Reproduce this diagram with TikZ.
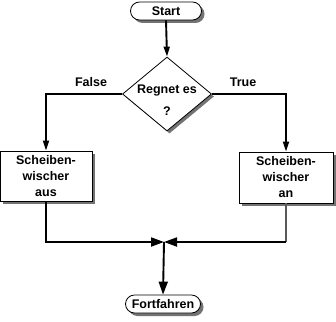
\documentclass[tikz,border=0pt]{standalone}
\usepackage{fontspec}
\setmainfont{Liberation Sans}
\usetikzlibrary{shapes.geometric,arrows.meta,shadows}
\begin{document}
\begin{tikzpicture}[x=1pt,y=-1pt,
 lbl/.style={font=\bfseries\fontsize{12.5}{16}\selectfont},
 shad/.style={drop shadow={shadow xshift=3pt,shadow yshift=-3pt,fill=black!55,opacity=1}},
 term/.style={draw,line width=0.8pt,rounded corners=9pt,fill=white,inner sep=0pt,lbl,shad},
 procbox/.style={draw,line width=0.8pt,fill=white,inner sep=0pt,align=center,lbl,shad},
 conn/.style={line width=1.9pt},
 bigtip/.style={-{Triangle[length=13pt,width=9pt]}},
 smalltip/.style={-{Triangle[length=10pt,width=6pt]}},
]
\useasboundingbox (0,0) rectangle (336,321);
\node[term,minimum width=71pt,minimum height=18pt] (s) at (166,11) {Start};
\node[draw,line width=0.8pt,diamond,minimum width=89pt,minimum height=74pt,inner sep=0pt,fill=white,
  drop shadow={shadow xshift=2.5pt,shadow yshift=-2.5pt,fill=black!55,opacity=1}] (d) at (167,94) {};
\node[lbl] (q1) at (167,91) {Regnet es};
\node[lbl] (q2) at (167,111) {?};
\node[lbl] (lf) at (91,82) {False};
\node[lbl] (lt) at (243,82) {True};
\node[procbox,minimum width=92pt,minimum height=50pt] (lb) at (46,176) {Scheiben-\\wischer\\aus};
\node[procbox,minimum width=94pt,minimum height=51pt] (rb) at (286,177.5) {Scheiben-\\wischer\\an};
\coordinate (m) at (164,242);
\coordinate (rc) at (rb.south |- m);
\node[term,minimum width=75pt,minimum height=18pt] (f) at (163,304) {Fortfahren};
\draw[conn,smalltip] (s.south) -- (d.north);
\draw[conn,smalltip] (d.west) -| (lb.north);
\draw[conn,smalltip] (d.east) -| (rb.north);
\draw[conn,bigtip] (lb.south) |- (m);
\draw[conn,black!65] (rb.south) -- (rc);
\draw[conn,bigtip] (rc) -- (m);
\draw[conn,bigtip] (m) -- (f.north);
\end{tikzpicture}
\end{document}
